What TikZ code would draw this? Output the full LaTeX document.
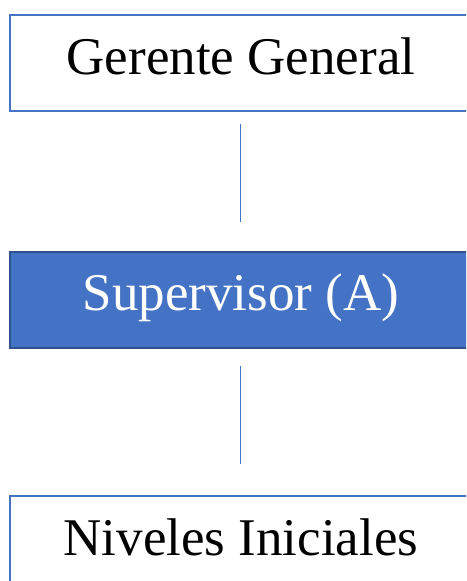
\documentclass[tikz,border=0pt]{standalone}
\usepackage{fontspec}
\setmainfont{Liberation Serif}
\definecolor{blu}{HTML}{4472C4}
\definecolor{blubord}{HTML}{2F528F}
\begin{document}
\begin{tikzpicture}[x=1pt,y=-1pt,
  box/.style={draw=blu,line width=2pt,minimum width=462pt,minimum height=96pt,inner sep=0pt,anchor=north west},
  filledbox/.style={box,fill=blu,draw=blubord},
  lbl/.style={anchor=base,inner sep=0pt,font=\fontsize{53}{60}\selectfont},
  conn/.style={draw=blu,line width=1pt}]
\useasboundingbox (0,0) rectangle (466,581);
\clip (0,0) rectangle (466,581);
\node[box] (gg) at (9,14) {};
\node[lbl] (ggt) at (241,74) {Gerente General};
\node[filledbox] (sup) at (9,251) {};
\node[lbl,text=white] (supt) at (241,310) {Supervisor (A)};
\node[box] (ni) at (9,495) {};
\node[lbl] (nit) at (241,555) {Niveles Iniciales};
\coordinate (a1) at (240,124);
\coordinate (a2) at (240,222);
\coordinate (b1) at (240,366);
\coordinate (b2) at (240,464);
\draw[conn] (a1) -- (a2);
\draw[conn] (b1) -- (b2);
\end{tikzpicture}
\end{document}
